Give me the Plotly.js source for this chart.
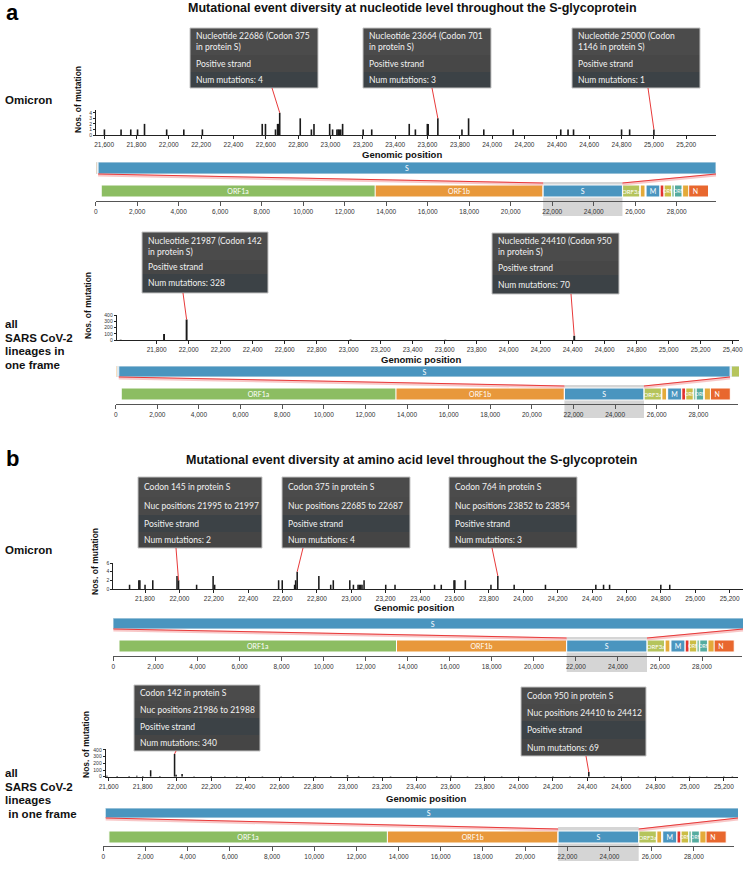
<!DOCTYPE html>
<html><head><meta charset="utf-8">
<script src="https://cdn.plot.ly/plotly-3.0.1.min.js"></script>
<style>html,body{margin:0;padding:0;background:#fff}#chart{width:746px;height:870px}</style>
</head><body><div id="chart"></div>
<script>
// ---------------- DATA ----------------
const genomeLength = 29903;
const geneNames  = ['ORF1a','ORF1b','S','ORF3a','E','M','ORF6','ORF7a','ORF7b','ORF8','N','ORF9b'];
const geneStart  = [266,13468,21563,25393,26245,26523,27202,27394,27756,27894,28274,28284];
const geneEnd    = [13483,21555,25384,26220,26472,27191,27387,27759,27887,28259,29533,28577];
const geneLabels = ['ORF1a','ORF1b','S','ORF3a','','M','','ORF','','ORF','N',''];
const geneColors = ['#8cbd62','#e8983b','#4a95bf','#b5c45c','#e4aa3a','#4a95bf','#e2342c','#cbbd45','#8fc7a8','#55ab9f','#e8672e','#e4aa3a'];

// a: Omicron, nucleotide level
const omiNucPos = [21602,21705,21765,21807,21850,21987,22093,22208,22578,22598,22660,22673,22679,22686,22813,22882,22898,22995,23013,23040,23048,23055,23063,23075,23202,23255,23487,23525,23599,23604,23664,23813,23854,23948,24130,24424,24469,24503,24800,24850,25000];
const omiNucCnt = [1,1,1,1,2,1,1,1,2,2,1,2,2,4,3,1,2,2,1,1,1,1,1,2,1,1,2,1,2,2,3,1,3,1,1,1,1,1,1,1,1];
// a: all lineages, nucleotide level
const allNucPos = [21575,21846,21987,23012,23604,24410];
const allNucCnt = [5,95,328,8,6,70];
// b: Omicron, amino acid level (codon start nucleotide)
const omiCodPos = [21710,21764,21770,21800,21845,21986,21995,22100,22196,22205,22577,22598,22670,22676,22685,22811,22880,22895,22991,23012,23039,23047,23054,23062,23074,23200,23254,23484,23523,23597,23602,23663,23812,23852,23947,24129,24422,24467,24502,24800,24852];
const omiCodCnt = [1,2,2,1,2,3,2,1,3,1,2,2,1,2,4,3,1,2,2,1,1,1,1,1,2,1,1,1,1,2,2,2,1,3,1,1,1,1,1,1,1];
// b: all lineages, amino acid level
const allCodPos = [21590,21650,21720,21765,21800,21846,21900,21986,21995,22030,22100,22200,22280,22350,22420,22500,22610,22680,22810,22900,22998,23063,23150,23250,23403,23520,23604,23700,23800,23900,24000,24100,24200,24300,24410,24500,24600,24700,24800,24900,25000,25100,25200,25250];
const allCodCnt = [15,9,12,14,10,95,9,340,30,40,8,10,6,8,6,6,6,9,8,9,20,10,6,8,12,9,15,8,6,8,6,8,6,6,69,6,6,8,6,8,6,8,6,8];

// tick labels of the "all lineages / nucleotide" zoom axis (first label is 21,800)
const allNucTicks = [21800,22000,22200,22400,22600,22800,23000,23200,23400,23600,23800,24000,24200,24400,24600,24800,25000,25200,25400];

// tooltips
const tipA1Pos = [22686,23664,25000];
const tipA1Text = [
  ['Nucleotide 22686 (Codon 375<br>in protein S)','Positive strand','Num mutations: 4'],
  ['Nucleotide 23664 (Codon 701<br>in protein S)','Positive strand','Num mutations: 3'],
  ['Nucleotide 25000 (Codon<br>1146 in protein S)','Positive strand','Num mutations: 1']];
const tipA2Pos = [21987,24410];
const tipA2Text = [
  ['Nucleotide 21987 (Codon 142<br>in protein S)','Positive strand','Num mutations: 328'],
  ['Nucleotide 24410 (Codon 950<br>in protein S)','Positive strand','Num mutations: 70']];
const tipB1Pos = [21995,22685,23852];
const tipB1Text = [
  ['Codon 145 in protein S','Nuc positions 21995 to 21997','Positive strand','Num mutations: 2'],
  ['Codon 375 in protein S','Nuc positions 22685 to 22687','Positive strand','Num mutations: 4'],
  ['Codon 764 in protein S','Nuc positions 23852 to 23854','Positive strand','Num mutations: 3']];
const tipB2Pos = [21986,24410];
const tipB2Text = [
  ['Codon 142 in protein S','Nuc positions 21986 to 21988','Positive strand','Num mutations: 340'],
  ['Codon 950 in protein S','Nuc positions 24410 to 24412','Positive strand','Num mutations: 69']];

// ---------------- LAYOUT (pixel geometry) ----------------
const W = 746, H = 870;
const fx = p => p / W;
const fy = p => 1 - p / H;
const pxOf = (dom, rng, v) => dom[0] + (v - rng[0]) / (rng[1] - rng[0]) * (dom[1] - dom[0]);

const panels = [
 {pos:omiNucPos, cnt:omiNucCnt, plotX:[96,716], plotY:[110,135], xr:[21550,25384], yr:[0,4.5], ydt:1, barW:10, tickvals:null,
  zoomY:[162,174], genX:[95.7,716.2], genBar:[185,197], genAxisY:201, hiY:[182,216], triY:219,
  gp:[402,154], nos:[78,100], tipPos:tipA1Pos, tipText:tipA1Text,
  tipBox:[[190,318],[363,491],[572,700]], tipRows:[[28,55,72,88],[28,55,72,88],[28,55,72,88]], tipAnchor:[272,432,648]},
 {pos:allNucPos, cnt:allNucCnt, plotX:[116.7,739], plotY:[315,340], xr:[21550,25440], yr:[0,400], ydt:100, barW:12, tickvals:allNucTicks,
  zoomY:[366,377], genX:[115.7,738], genBar:[388,400], genAxisY:404, hiY:[385,418], triY:421,
  gp:[421,359], nos:[88,306], tipPos:tipA2Pos, tipText:tipA2Text,
  tipBox:[[142,268],[492,619]], tipRows:[[232,260,274,293],[233,261,275,294]], tipAnchor:[183,571]},
 {pos:omiCodPos, cnt:omiCodCnt, plotX:[113.4,743], plotY:[563,589], xr:[21616,25278], yr:[0,6], ydt:2, barW:9, tickvals:null,
  zoomY:[618,629], genX:[113.4,742], genBar:[640,652], genAxisY:656, hiY:[637,672], triY:675,
  gp:[414,607], nos:[95,562], tipPos:tipB1Pos, tipText:tipB1Text,
  tipBox:[[138,262],[282,410],[449,577]], tipRows:[[477,497,515,532,548],[477,497,515,532,548],[477,497,515,532,548]], tipAnchor:[176,303,492]},
 {pos:allCodPos, cnt:allCodCnt, plotX:[105.7,738], plotY:[749.3,776.7], xr:[21583,25283], yr:[0,410], ydt:100, barW:9, tickvals:null,
  zoomY:[808,818], genX:[103.3,734], genBar:[831,843], genAxisY:846, hiY:[827,861], triY:864,
  gp:[426,798], nos:[86,745], tipPos:tipB2Pos, tipText:tipB2Text,
  tipBox:[[134,260],[521,646]], tipRows:[[685,701,718,735,751],[687,704,721,739,756]], tipAnchor:[176,586]}
];

const nm = (p, i) => p + (i === 1 ? '' : i);
const lk = (p, i) => p + 'axis' + (i === 1 ? '' : i);
function band(barTop, barBot, domTop, domBot) {
  const ppu = barBot - barTop;
  return {domain:[fy(domBot), fy(domTop)], range:[-0.5 - (domBot - barBot) / ppu, 0.5 + (barTop - domTop) / ppu], ppu};
}

const traces = [], shapes = [], ann = [];
const layout = {width:W, height:H, margin:{l:0,r:0,t:0,b:0}, paper_bgcolor:'#ffffff', plot_bgcolor:'rgba(0,0,0,0)',
  showlegend:false, barmode:'overlay', font:{family:'Liberation Sans, Arial, sans-serif', color:'#222'}};

const TICKF = 'Liberation Sans, Arial, sans-serif';
const TIPF = 'Lato, Roboto, sans-serif';
const sIdx = geneNames.indexOf('S');
const sStart = geneStart[sIdx], sEnd = geneEnd[sIdx];
const geneLen = geneStart.map((s, k) => geneEnd[k] - s);
const zoomText = geneNames.map(n => n === 'S' ? 'S' : '');
const geneLabelSize = geneLabels.map(t => t === 'ORF' ? 4.8 : (t === 'ORF3a' ? 6 : 7));

panels.forEach((p, i) => {
  const bxI = 2*i+1, gxI = 2*i+2, byI = 3*i+1, zyI = 3*i+2, gyI = 3*i+3;
  const bx = nm('x',bxI), gx = nm('x',gxI), by = nm('y',byI), zy = nm('y',zyI), gy = nm('y',gyI);
  const xax = {domain:[fx(p.plotX[0]), fx(p.plotX[1])], range:p.xr, anchor:by, showline:true, linecolor:'#222', linewidth:1,
    ticks:'outside', ticklen:3, tickcolor:'#222', tickwidth:1, dtick:200, tick0:0, tickformat:',d',
    tickfont:{size:6.5, color:'#333', family:TICKF}, showgrid:false, zeroline:false, fixedrange:true};
  if (p.tickvals) { xax.tickmode = 'array'; xax.tickvals = p.tickvals; }
  layout[lk('x',bxI)] = xax;
  layout[lk('y',byI)] = {domain:[fy(p.plotY[1]), fy(p.plotY[0])], range:p.yr, anchor:bx, showline:true, linecolor:'#222', linewidth:1,
    ticks:'outside', ticklen:2, tickcolor:'#222', dtick:p.ydt, tickfont:{size:5, color:'#333', family:TICKF}, showgrid:false, zeroline:false, fixedrange:true};
  const zb = band(p.zoomY[0], p.zoomY[1], p.zoomY[0], p.zoomY[1]);
  layout[lk('y',zyI)] = {domain:zb.domain, range:zb.range, anchor:bx, visible:false, fixedrange:true};
  layout[lk('x',gxI)] = {domain:[fx(p.genX[0]), fx(p.genX[1])], range:[0, genomeLength], anchor:gy, showline:true, linecolor:'#555', linewidth:1,
    ticks:'outside', ticklen:4, tickcolor:'#555', dtick:2000, tick0:0, tickformat:',d',
    tickfont:{size:6.5, color:'#333', family:TICKF}, showgrid:false, zeroline:false, fixedrange:true};
  const gb = band(p.genBar[0], p.genBar[1], p.genBar[0]-1, p.genAxisY);
  layout[lk('y',gyI)] = {domain:gb.domain, range:gb.range, anchor:gx, visible:false, fixedrange:true};

  // mutation bars
  traces.push({type:'bar', x:p.pos, y:p.cnt, width:p.barW, marker:{color:'#1a1a1a', line:{width:0}}, xaxis:bx, yaxis:by, hoverinfo:'skip'});
  // zoomed gene bar (S region)
  traces.push({type:'bar', orientation:'h', base:geneStart, x:geneLen, y:geneStart.map(() => 0), width:1,
    marker:{color:geneColors, line:{color:'#dfe9ef', width:1}}, text:zoomText, textposition:'inside', insidetextanchor:'middle',
    textangle:0, constraintext:'none', textfont:{color:'#ffffff', size:7, family:TIPF}, xaxis:bx, yaxis:zy, hoverinfo:'skip'});
  // genome gene bar
  traces.push({type:'bar', orientation:'h', base:geneStart, x:geneLen, y:geneStart.map(() => 0), width:1,
    marker:{color:geneColors, line:{color:'#ffffff', width:1}}, text:geneLabels, textposition:'inside', insidetextanchor:'middle',
    textangle:0, constraintext:'none', textfont:{color:'#ffffff', size:geneLabelSize, family:TIPF}, xaxis:gx, yaxis:gy, hoverinfo:'skip'});
  // triangles marking S region on genome
  const triVal = -0.5 - (p.triY - p.genBar[1]) / gb.ppu;
  traces.push({type:'scatter', mode:'markers', x:[sStart, sEnd], y:[triVal, triVal], cliponaxis:false,
    marker:{symbol:'triangle-up', size:7, color:'#222'}, xaxis:gx, yaxis:gy, hoverinfo:'skip'});

  // grey highlight
  shapes.push({type:'rect', xref:gx, yref:'paper', x0:sStart, x1:sEnd, y0:fy(p.hiY[1]), y1:fy(p.hiY[0]),
    fillcolor:'#d5d5d5', line:{width:0}, layer:'below'});
  // zoom connector lines
  const zl = Math.max(p.plotX[0], pxOf(p.plotX, p.xr, sStart));
  const zr = Math.min(p.plotX[1], pxOf(p.plotX, p.xr, sEnd));
  const gl = pxOf(p.genX, [0, genomeLength], sStart), gr = pxOf(p.genX, [0, genomeLength], sEnd);
  [[zl, gl], [zr, gr]].forEach(([a, b]) => {
    shapes.push({type:'line', xref:'paper', yref:'paper', x0:fx(a), y0:fy(p.zoomY[1]+1), x1:fx(b), y1:fy(p.genBar[0]-1),
      line:{color:'rgba(240,130,130,0.45)', width:3}});
    shapes.push({type:'line', xref:'paper', yref:'paper', x0:fx(a), y0:fy(p.zoomY[1]), x1:fx(b), y1:fy(p.genBar[0]-2),
      line:{color:'#e83a3a', width:1}});
  });

  // labels
  ann.push({text:'<b>Genomic position</b>', x:fx(p.gp[0]), y:fy(p.gp[1]), xref:'paper', yref:'paper', showarrow:false,
    xanchor:'center', yanchor:'middle', font:{size:9.5, color:'#111'}});
  ann.push({text:'<b>Nos. of mutation</b>', x:fx(p.nos[0]), y:fy(p.nos[1]), xref:'paper', yref:'paper', showarrow:false,
    textangle:-90, xanchor:'center', yanchor:'middle', font:{size:8.5, color:'#111'}});

  // tooltips
  p.tipPos.forEach((tp, k) => {
    const box = p.tipBox[k], rows = p.tipRows[k], lines = p.tipText[k];
    const rowCols = lines.length === 3 ? ['#4b4b4b','#474747','#3c4246'] : ['#4b4b4b','#494949','#3c4246','#454545'];
    lines.forEach((t, r) => {
      shapes.push({type:'rect', xref:'paper', yref:'paper', x0:fx(box[0]), x1:fx(box[1]), y0:fy(rows[r+1]), y1:fy(rows[r]),
        fillcolor:rowCols[r], line:{width:0}});
      ann.push({text:t, x:fx(box[0]+4), y:fy((rows[r]+rows[r+1])/2), xref:'paper', yref:'paper', showarrow:false,
        xanchor:'left', yanchor:'middle', align:'left', font:{size:8.5, color:'#f2f2f2', family:TIPF}});
    });
    shapes.push({type:'rect', xref:'paper', yref:'paper', x0:fx(box[0]), x1:fx(box[1]), y0:fy(rows[rows.length-1]), y1:fy(rows[0]),
      line:{color:'#c4c4c4', width:1}, fillcolor:'rgba(0,0,0,0)'});
    const ci = p.pos.indexOf(tp);
    const tx = pxOf(p.plotX, p.xr, tp);
    const ty = p.plotY[1] - (p.cnt[ci] - p.yr[0]) / (p.yr[1] - p.yr[0]) * (p.plotY[1] - p.plotY[0]);
    shapes.push({type:'line', xref:'paper', yref:'paper', x0:fx(p.tipAnchor[k]), y0:fy(rows[rows.length-1]), x1:fx(tx), y1:fy(ty),
      line:{color:'#e83a3a', width:1}});
  });
});

// panel letters, titles, row labels
ann.push({text:'<b>a</b>', x:fx(4), y:fy(12), xref:'paper', yref:'paper', showarrow:false, xanchor:'left', yanchor:'middle', font:{size:22, color:'#000'}});
ann.push({text:'<b>b</b>', x:fx(4), y:fy(458), xref:'paper', yref:'paper', showarrow:false, xanchor:'left', yanchor:'middle', font:{size:22, color:'#000'}});
ann.push({text:'<b>Mutational event diversity at nucleotide level throughout the S-glycoprotein</b>', x:fx(412), y:fy(8), xref:'paper', yref:'paper',
  showarrow:false, xanchor:'center', yanchor:'middle', font:{size:12.5, color:'#111'}});
ann.push({text:'<b>Mutational event diversity at amino acid level throughout the S-glycoprotein</b>', x:fx(411), y:fy(460), xref:'paper', yref:'paper',
  showarrow:false, xanchor:'center', yanchor:'middle', font:{size:12.5, color:'#111'}});
const rowLab = (t, x, y) => ann.push({text:'<b>'+t+'</b>', x:fx(x), y:fy(y), xref:'paper', yref:'paper', showarrow:false,
  xanchor:'left', yanchor:'middle', font:{size:11.5, color:'#111'}});
rowLab('Omicron', 3, 100);
rowLab('Omicron', 3, 550);
['all','SARS CoV-2','lineages in','one frame'].forEach((t, k) => rowLab(t, 3, [324,337.5,351,364.5][k]));
['all','SARS CoV-2','lineages','&nbsp;in one frame'].forEach((t, k) => rowLab(t, 3, [773,786.5,800,813.5][k]));

layout.shapes = shapes;
layout.annotations = ann;
Plotly.newPlot('chart', traces, layout, {staticPlot:true, displayModeBar:false});
</script>
</body></html>
